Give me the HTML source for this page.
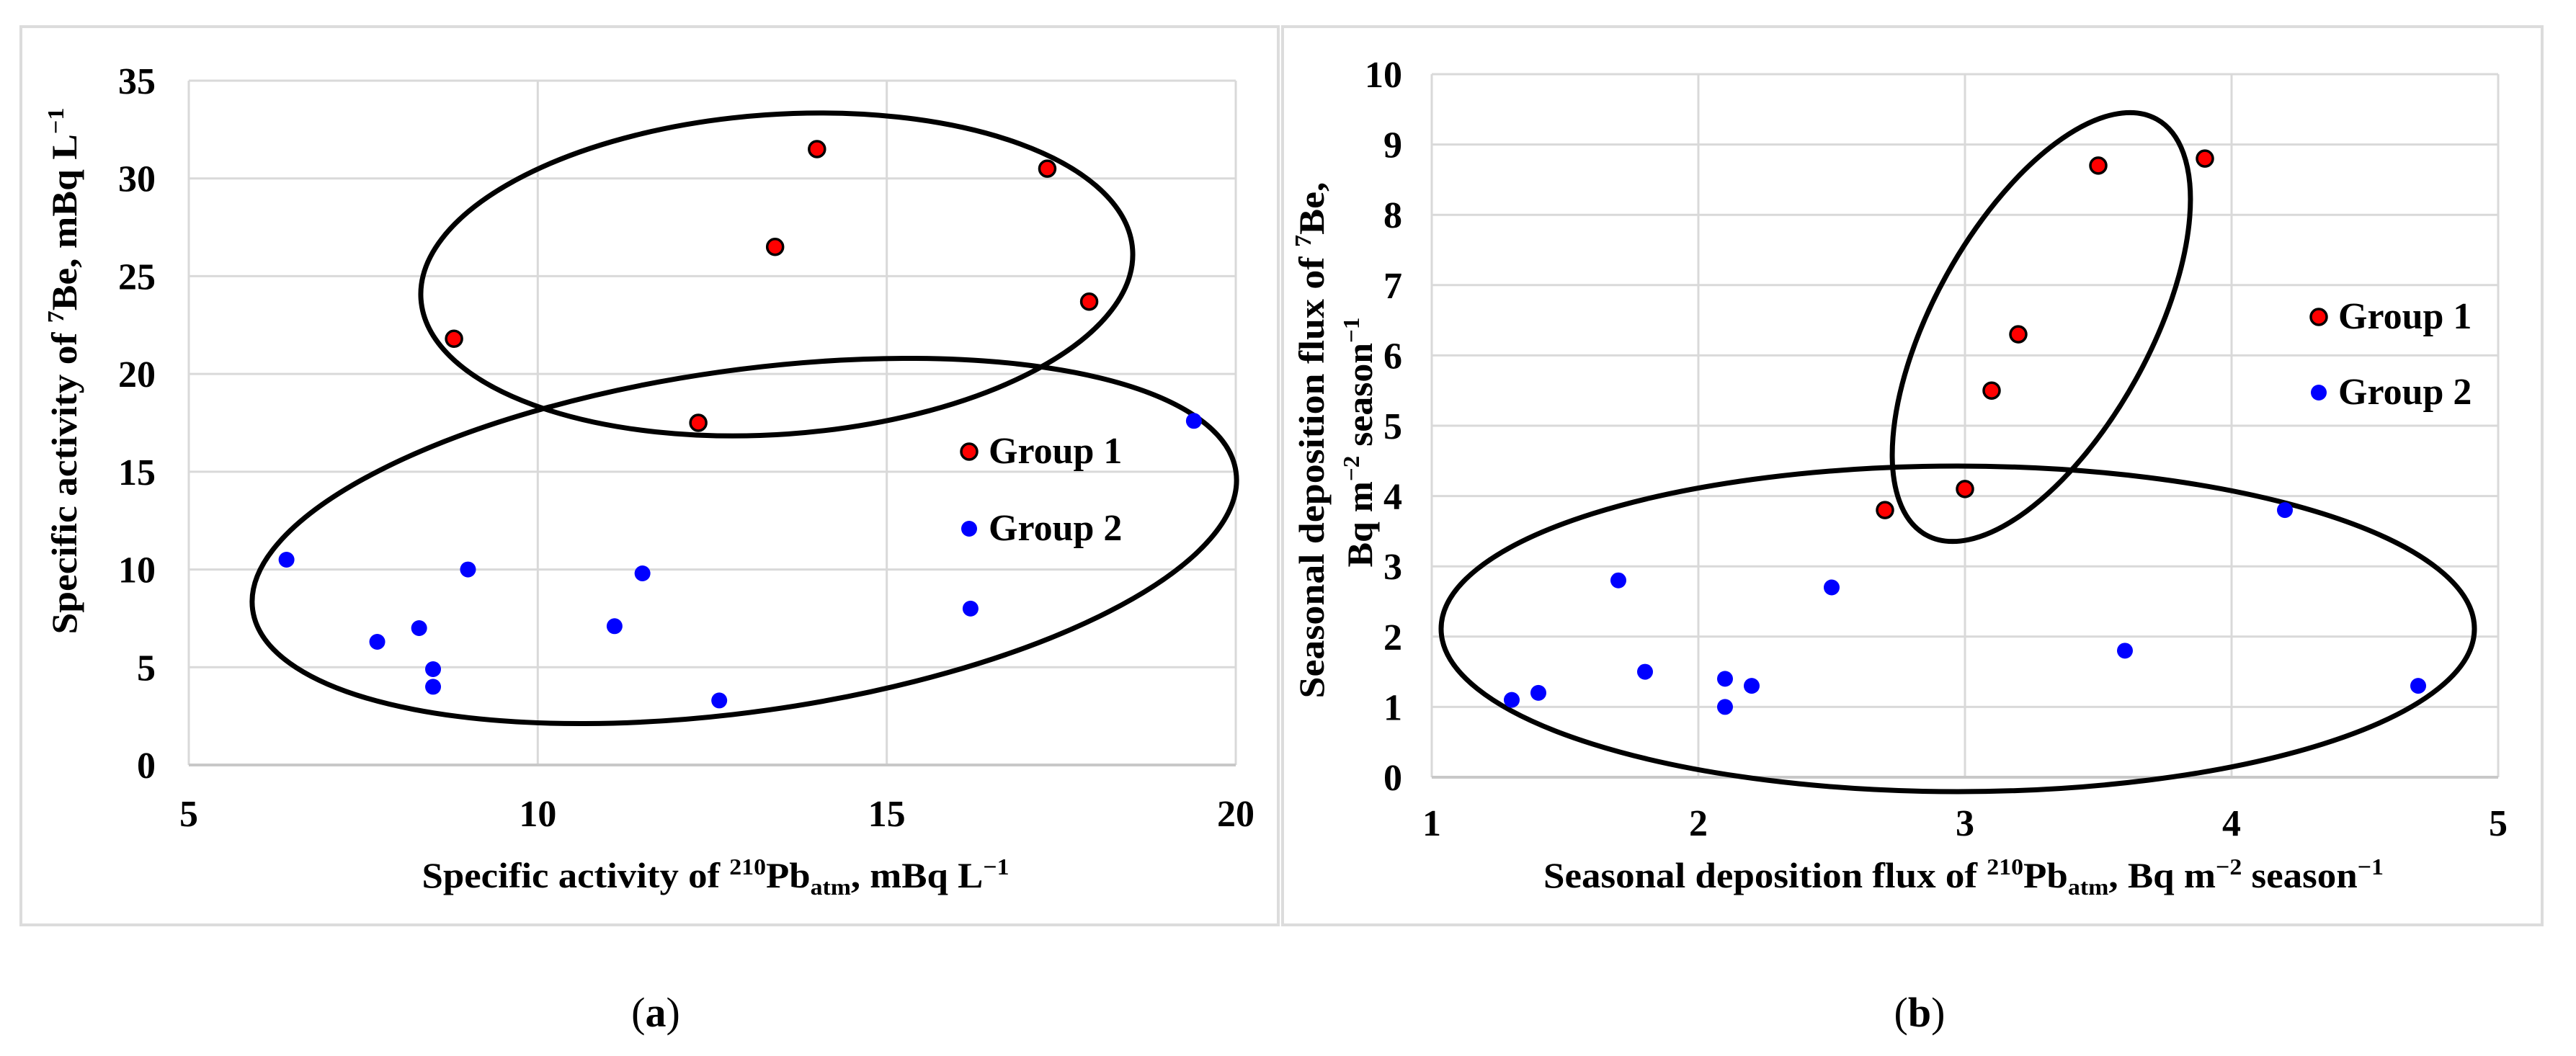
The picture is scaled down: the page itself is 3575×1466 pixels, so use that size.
<!DOCTYPE html>
<html><head><meta charset="utf-8"><style>
html,body{margin:0;padding:0;background:#fff;}
svg{display:block;}
text{font-family:"Liberation Serif",serif;font-weight:bold;fill:#000;}
</style></head><body>
<svg id="fig" width="3575" height="1466" viewBox="0 0 3575 1466" xmlns="http://www.w3.org/2000/svg">
<rect x="29" y="37" width="1745" height="1247" fill="#fff" stroke="#dcdcdc" stroke-width="4"/>
<rect x="1780" y="37" width="1748" height="1247" fill="#fff" stroke="#dcdcdc" stroke-width="4"/>
<g id="pa"></g>
<g id="pb"></g>
<text x="910" y="1425" font-size="58" text-anchor="middle" style="font-weight:normal">(<tspan font-weight="bold">a</tspan>)</text>
<text x="2664" y="1425" font-size="58" text-anchor="middle" style="font-weight:normal">(<tspan font-weight="bold">b</tspan>)</text>
</svg>
<script>
// Panel a data
const aXTicks = [5, 10, 15, 20];
const aYTicks = [0, 5, 10, 15, 20, 25, 30, 35];
const aG1x = [8.8, 12.3, 13.4, 14.0, 17.3, 17.9];
const aG1y = [21.8, 17.5, 26.5, 31.5, 30.5, 23.7];
const aG2x = [6.4, 7.7, 8.3, 8.5, 8.5, 9.0, 11.1, 11.5, 12.6, 16.2, 19.4];
const aG2y = [10.5, 6.3, 7.0, 4.9, 4.0, 10.0, 7.1, 9.8, 3.3, 8.0, 17.6];
// Panel b data
const bXTicks = [1, 2, 3, 4, 5];
const bYTicks = [0, 1, 2, 3, 4, 5, 6, 7, 8, 9, 10];
const bG1x = [2.7, 3.0, 3.1, 3.2, 3.5, 3.9];
const bG1y = [3.8, 4.1, 5.5, 6.3, 8.7, 8.8];
const bG2x = [1.3, 1.4, 1.7, 1.8, 2.1, 2.1, 2.2, 2.5, 3.6, 4.2, 4.7];
const bG2y = [1.1, 1.2, 2.8, 1.5, 1.4, 1.0, 1.3, 2.7, 1.8, 3.8, 1.3];

const NS = "http://www.w3.org/2000/svg";
function mk(parent, tag, attrs) {
  const e = document.createElementNS(NS, tag);
  for (const k in attrs) e.setAttribute(k, attrs[k]);
  parent.appendChild(e);
  return e;
}

function drawPanel(g, cfg) {
  const sx = v => cfg.L + (v - cfg.xmin) / (cfg.xmax - cfg.xmin) * (cfg.R - cfg.L);
  const sy = v => cfg.B - (v - cfg.ymin) / (cfg.ymax - cfg.ymin) * (cfg.B - cfg.T);
  cfg.yt.forEach(v => {
    const l = mk(g, "line", {x1: cfg.L, x2: cfg.R, y1: sy(v), y2: sy(v), stroke: "#d9d9d9", "stroke-width": 3});
    
    
    const t = mk(g, "text", {x: cfg.yLabX, y: sy(v) + 18, "font-size": 52, "text-anchor": "end"});
    t.textContent = v;
    
    
  });
  cfg.xt.forEach(v => {
    const l = mk(g, "line", {x1: sx(v), x2: sx(v), y1: cfg.T, y2: cfg.B, stroke: "#d9d9d9", "stroke-width": 3});
    
    
    const t = mk(g, "text", {x: sx(v), y: cfg.xLabY, "font-size": 52, "text-anchor": "middle"});
    t.textContent = v;
    
    
  });
  const ax = mk(g, "line", {x1: cfg.L, x2: cfg.R, y1: cfg.B, y2: cfg.B, stroke: "#c8c8c8", "stroke-width": 4});
  
  
  cfg.ellipses.forEach((e, i) => {
    const el = mk(g, "ellipse", {cx: e[0], cy: e[1], rx: e[2], ry: e[3], transform: `rotate(${e[4]} ${e[0]} ${e[1]})`, fill: "none", stroke: "#000", "stroke-width": 7});
    
    
  });
  cfg.g2x.forEach((v, i) => {
    const c = mk(g, "circle", {cx: sx(v), cy: sy(cfg.g2y[i]), r: 11, fill: "#0000ff"});
    
    
  });
  cfg.g1x.forEach((v, i) => {
    const c = mk(g, "circle", {cx: sx(v), cy: sy(cfg.g1y[i]), r: 11, fill: "#ff0000", stroke: "#000", "stroke-width": 3.5});
    
    
  });
  const lg = cfg.leg;
  const d1 = mk(g, "circle", {cx: lg[0], cy: lg[1], r: 11, fill: "#ff0000", stroke: "#000", "stroke-width": 3.5});
  
  
  const t1 = mk(g, "text", {x: lg[0] + 27, y: lg[1] + 16, "font-size": 52});
  t1.textContent = "Group 1";
  
  
  const d2 = mk(g, "circle", {cx: lg[0], cy: lg[2], r: 11, fill: "#0000ff"});
  
  
  const t2 = mk(g, "text", {x: lg[0] + 27, y: lg[2] + 16, "font-size": 52});
  t2.textContent = "Group 2";
  
  
}

const pa = document.getElementById("pa");
drawPanel(pa, {L: 262, R: 1715, T: 112, B: 1062, xmin: 5, xmax: 20, ymin: 0, ymax: 35,
  xt: aXTicks, yt: aYTicks, g1x: aG1x, g1y: aG1y, g2x: aG2x, g2y: aG2y,
  yLabX: 216, xLabY: 1147,
  ellipses: [[1078, 381, 495, 222, -4], [1033, 751, 689, 237, -8]],
  leg: [1345, 627, 734]});
const pb = document.getElementById("pb");
drawPanel(pb, {L: 1987, R: 3467, T: 103, B: 1079, xmin: 1, xmax: 5, ymin: 0, ymax: 10,
  xt: bXTicks, yt: bYTicks, g1x: bG1x, g1y: bG1y, g2x: bG2x, g2y: bG2y,
  yLabX: 1946, xLabY: 1160,
  ellipses: [[2717, 873, 717, 226, 0], [2833, 454, 330, 150, -61]],
  leg: [3218, 440, 545]});

function title(g, x, y, rot, len, name, html) {
  const t = mk(g, "text", {x: x, y: y, "font-size": 50, "text-anchor": "middle", textLength: len, lengthAdjust: "spacingAndGlyphs"});
  if (rot) t.setAttribute("transform", `rotate(-90 ${x} ${y})`);
  t.innerHTML = html;
  
  
}
title(pa, 993, 1232, false, 815, 'x-axis-title-a', 'Specific activity of <tspan dy="-18" font-size="32">210</tspan><tspan dy="18">Pb</tspan><tspan dy="10" font-size="32">atm</tspan><tspan dy="-10">, mBq L</tspan><tspan dy="-18" font-size="32">−1</tspan>');
title(pa, 106, 515, true, 731, 'y-axis-title-a', 'Specific activity of  <tspan dy="-18" font-size="32">7</tspan><tspan dy="18">Be, mBq L</tspan><tspan dy="-18" font-size="32">−1</tspan>');
title(pb, 2725, 1232, false, 1166, 'x-axis-title-b', 'Seasonal deposition flux of <tspan dy="-18" font-size="32">210</tspan><tspan dy="18">Pb</tspan><tspan dy="10" font-size="32">atm</tspan><tspan dy="-10">, Bq m</tspan><tspan dy="-18" font-size="32">−2</tspan><tspan dy="18"> season</tspan><tspan dy="-18" font-size="32">−1</tspan>');
title(pb, 1837, 611, true, 717, 'y-axis-title-b-line-1', 'Seasonal deposition flux of  <tspan dy="-18" font-size="32">7</tspan><tspan dy="18">Be,</tspan>');
title(pb, 1904, 614, true, 347, 'y-axis-title-b-line-2', 'Bq m<tspan dy="-18" font-size="32">−2</tspan><tspan dy="18"> season</tspan><tspan dy="-18" font-size="32">−1</tspan>');
</script>
</body></html>
